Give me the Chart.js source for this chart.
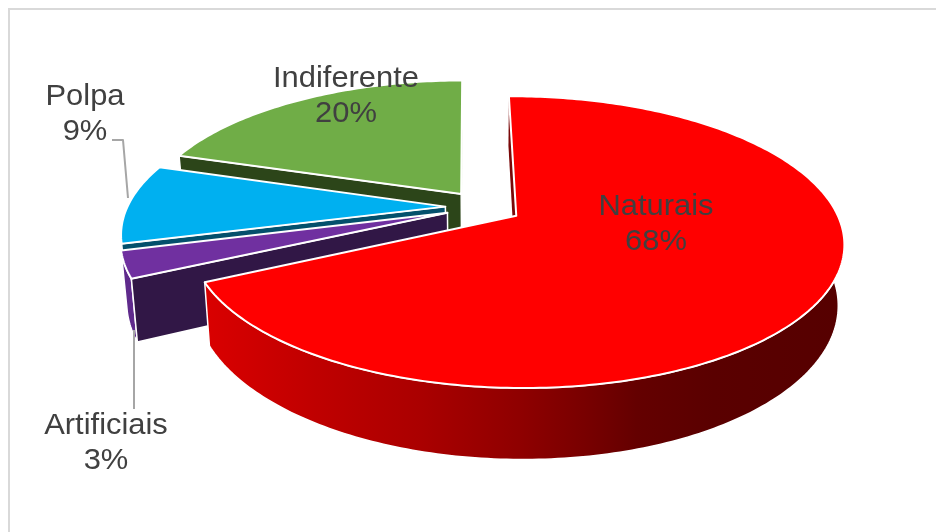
<!DOCTYPE html>
<html>
<head>
<meta charset="utf-8">
<style>
  html, body { margin: 0; padding: 0; background: #fff; }
  canvas { display: block; }
</style>
<script src="https://cdn.jsdelivr.net/npm/chart.js@4/dist/chart.umd.js"></script>
</head>
<body>
<canvas id="pie" width="936" height="532"></canvas>
<script>
const categories = ['Naturais', 'Artificiais', 'Polpa', 'Indiferente'];
const percentages = [68, 3, 9, 20];

const topColors = ['#ff0000', '#7030a0', '#00b0f0', '#70ad47'];
const rimColors = [null, '#5f2a8c', '#0083b0', '#3f6a22'];
const nearFaceColors = ['#7a0808', '#311746', '#04506c', '#2c4519'];
const farFaceColors = [null, null, null, '#d5e2c8'];

// pie plane -> screen
const CX = 483.5, CY = 207, RX = 318, RY = 138, PERSPECTIVE = 0.178;
const DEPTH = 58, BOTTOM_SHRINK = 0.017, EXPLODE = 0.12;

const labelBoxes = [
  { x: 656, y: 215 },
  { x: 106, y: 434 },
  { x: 85, y: 105 },
  { x: 346, y: 87 },
];
const leaderLines = [
  [[112, 140], [123, 140], [128, 198]],
  [[134, 330], [134, 409]],
];

function project(u, v, z) {
  const w = 1 - PERSPECTIVE * v;
  const s = 1 - BOTTOM_SHRINK * z;
  return [CX + RX * u * s / w, CY + (RY * v + DEPTH * z) / w];
}

function tracePath(ctx, pts, fill, stroke) {
  ctx.beginPath();
  pts.forEach((p, i) => (i ? ctx.lineTo(p[0], p[1]) : ctx.moveTo(p[0], p[1])));
  ctx.closePath();
  ctx.fillStyle = fill;
  ctx.fill();
  if (stroke) {
    ctx.strokeStyle = '#ffffff';
    ctx.lineWidth = stroke;
    ctx.lineJoin = 'round';
    ctx.stroke();
  }
}

function redRimGradient(ctx) {
  const g = ctx.createLinearGradient(205, 0, 840, 0);
  g.addColorStop(0, '#da0000');
  g.addColorStop(0.17, '#c00000');
  g.addColorStop(0.34, '#aa0000');
  g.addColorStop(0.5, '#8e0000');
  g.addColorStop(0.6, '#780000');
  g.addColorStop(0.68, '#640000');
  g.addColorStop(0.8, '#5a0000');
  g.addColorStop(1, '#560000');
  return g;
}

function drawSlice(ctx, arc, i) {
  const { startAngle, endAngle } = arc.getProps(['startAngle', 'endAngle'], true);
  const mid = (startAngle + endAngle) / 2;
  const du = Math.cos(mid) * EXPLODE, dv = Math.sin(mid) * EXPLODE;

  const top = [], bottom = [];
  const steps = Math.max(4, Math.ceil((endAngle - startAngle) * 60));
  for (let s = 0; s <= steps; s++) {
    const a = startAngle + (endAngle - startAngle) * s / steps;
    top.push(project(du + Math.cos(a), dv + Math.sin(a), 0));
    bottom.push(project(du + Math.cos(a), dv + Math.sin(a), 1));
  }
  const apexTop = project(du, dv, 0), apexBottom = project(du, dv, 1);
  const first = top[0], last = top[steps];

  if (farFaceColors[i]) {
    tracePath(ctx, [apexTop, last, bottom[steps], apexBottom], farFaceColors[i], 0);
  }

  const rimFill = rimColors[i] || redRimGradient(ctx);
  tracePath(ctx, top.concat(bottom.slice().reverse()), rimFill, 1.5);
  tracePath(ctx, [apexTop, first, bottom[0], apexBottom], nearFaceColors[i], i === 0 ? 0 : 1.5);
  tracePath(ctx, [apexTop].concat(top), arc.options.backgroundColor, 2);
}

class Slice3D extends Chart.ArcElement {
  static id = 'slice3d';
}

class Pie3DController extends Chart.PieController {
  static id = 'pie3d';
  static defaults = { dataElementType: 'slice3d' };

  // back slices first so the front ones overlap them
  draw() {
    const ctx = this.chart.ctx;
    const arcs = this.getMeta().data;
    for (let i = arcs.length - 1; i >= 0; i--) drawSlice(ctx, arcs[i], i);
  }
}

Chart.register(Slice3D, Pie3DController);

const framePlugin = {
  id: 'frame',
  beforeDraw(chart) {
    const ctx = chart.ctx;
    ctx.save();
    ctx.strokeStyle = '#d9d9d9';
    ctx.lineWidth = 2;
    ctx.beginPath();
    ctx.moveTo(9, chart.height);
    ctx.lineTo(9, 9);
    ctx.lineTo(chart.width, 9);
    ctx.stroke();
    ctx.restore();
  },
};

const labelPlugin = {
  id: 'sliceLabels',
  afterDraw(chart) {
    const ctx = chart.ctx;
    ctx.save();
    ctx.strokeStyle = '#a6a6a6';
    ctx.lineWidth = 2;
    leaderLines.forEach(line => {
      ctx.beginPath();
      line.forEach((p, i) => (i ? ctx.lineTo(p[0], p[1]) : ctx.moveTo(p[0], p[1])));
      ctx.stroke();
    });
    ctx.fillStyle = '#404040';
    ctx.font = '30px "Liberation Sans", Arial, sans-serif';
    ctx.textAlign = 'center';
    categories.forEach((name, i) => {
      const pos = labelBoxes[i];
      // text in the chart is slightly wider than tall
      ctx.save();
      ctx.translate(pos.x, pos.y);
      ctx.scale(1.03, 1);
      ctx.fillText(name, 0, 0);
      ctx.fillText(percentages[i] + '%', 0, 35);
      ctx.restore();
    });
    ctx.restore();
  },
};

new Chart(document.getElementById('pie'), {
  type: 'pie3d',
  data: {
    labels: categories,
    datasets: [{ data: percentages, backgroundColor: topColors, rotation: -0.5, borderWidth: 0 }],
  },
  options: {
    responsive: false,
    animation: false,
    devicePixelRatio: 1,
    plugins: { legend: { display: false }, tooltip: { enabled: false } },
  },
  plugins: [framePlugin, labelPlugin],
});
</script>
</body>
</html>
